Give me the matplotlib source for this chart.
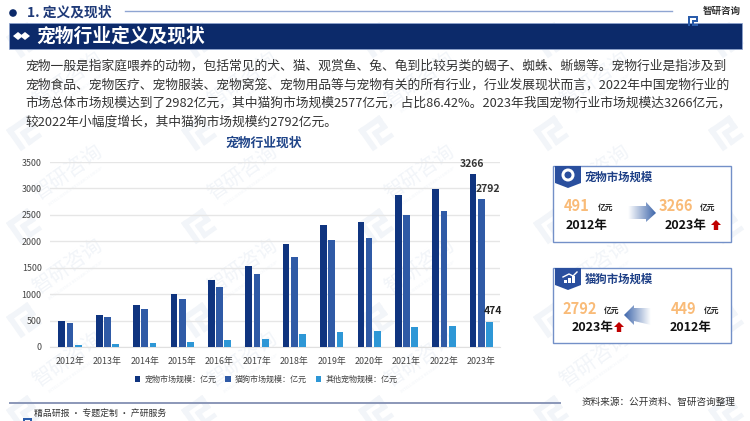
#!/usr/bin/env python3
"""Pet industry slide: bar chart of market size plus two summary cards."""
import numpy as np
import matplotlib

matplotlib.use("Agg")
import matplotlib.pyplot as plt
from matplotlib.patches import Circle, Polygon, Rectangle
from matplotlib.transforms import Affine2D

plt.rcParams["font.family"] = ["Noto Sans CJK SC", "DejaVu Sans"]

NAVY = "#0c2a6a"
ORANGE = "#f9bb78"
BORDER = "#7390c8"
WATERMARK = "#f2f5f9"

years = ["2012年", "2013年", "2014年", "2015年", "2016年", "2017年",
         "2018年", "2019年", "2020年", "2021年", "2022年", "2023年"]
total_size = [491, 614, 790, 1000, 1260, 1530, 1950, 2310, 2360, 2870, 2982, 3266]
cat_dog_size = [449, 560, 715, 900, 1135, 1380, 1700, 2020, 2065, 2490, 2577, 2792]
other_size = [42, 54, 75, 100, 125, 155, 250, 290, 295, 380, 405, 474]
y_ticks = [0, 500, 1000, 1500, 2000, 2500, 3000, 3500]
series_names = ["宠物市场规模：亿元", "猫狗市场规模：亿元", "其他宠物规模：亿元"]
series_colors = ["#0f347f", "#2f5aa6", "#2e97d6"]

body_lines = [
    "宠物一般是指家庭喂养的动物，包括常见的犬、猫、观赏鱼、兔、龟到比较另类的蝎子、蜘蛛、蜥蜴等。宠物行业是指涉及到",
    "宠物食品、宠物医疗、宠物服装、宠物窝笼、宠物用品等与宠物有关的所有行业，行业发展现状而言，2022年中国宠物行业的",
    "市场总体市场规模达到了2982亿元，其中猫狗市场规模2577亿元，占比86.42%。2023年我国宠物行业市场规模达3266亿元，",
    "较2022年小幅度增长，其中猫狗市场规模约2792亿元。",
]


def logo(ax, x, y, scale, color, rot=0, zorder=1):
    """Rough version of the company mark, built from a few bars."""
    parts = [(0, 0, 1.0, 0.22), (0, 0, 0.22, 1.0), (0.38, 0.38, 0.62, 0.2),
             (0.78, 0, 0.22, 0.58), (0.38, 0.38, 0.2, 0.62), (0.38, 0.82, 0.62, 0.18)]
    tr = Affine2D().scale(scale).rotate_deg(rot).translate(x, y) + ax.transData
    for px, py, w, h in parts:
        ax.add_patch(Rectangle((px, py), w, h, fc=color, ec="none", transform=tr, zorder=zorder))


def gradient_arrow(ax, pts, extent, reverse=False):
    grad = np.linspace(0, 1, 64).reshape(1, -1)
    if reverse:
        grad = grad[:, ::-1]
    cmap = matplotlib.colors.LinearSegmentedColormap.from_list("fade", ["#ffffff", "#3f67ab"])
    im = ax.imshow(grad, extent=extent, aspect="auto", cmap=cmap, zorder=3)
    im.set_clip_path(Polygon(pts, transform=ax.transData))


def up_arrow(ax, x, y):
    pts = [(x, y - 5), (x + 5, y), (x + 2.2, y), (x + 2.2, y + 5), (x - 2.2, y + 5), (x - 2.2, y), (x - 5, y)]
    ax.add_patch(Polygon(pts, fc="#c00000", ec="none", zorder=3))


def card(ax, top, bottom, title):
    ax.add_patch(Rectangle((553, top), 178, bottom - top, fc="white", ec=BORDER, lw=1.0, zorder=2))
    ribbon = [(555, top), (581, top), (581, top + 17), (568, top + 22), (555, top + 17)]
    ax.add_patch(Polygon(ribbon, fc="#2a4f9e", ec="none", zorder=3))
    ax.text(585, top + 11, title, fontsize=8.2, fontweight="bold", color="#1d3f86",
            va="center", ha="left", zorder=4)


def card_value(ax, cx, y, value, unit_x, year_x, year):
    ax.text(cx, y, value, fontsize=10.5, fontweight="bold", color=ORANGE, ha="center", va="center", zorder=4)
    ax.text(unit_x, y + 1, "亿元", fontsize=5.6, fontweight="bold", color="#222222", ha="center", va="center", zorder=4)
    ax.text(year_x, y + 19, year, fontsize=9, fontweight="bold", color="#111111", ha="center", va="center", zorder=4)


fig = plt.figure(figsize=(7.5, 4.21), dpi=100)
bg = fig.add_axes([0, 0, 1, 1])
bg.set_axis_off()

# repeated watermark behind everything; text only where it fits on the slide
for wx in (-107, 68, 243, 420, 595, 770):
    for wy in (-13, 80, 173, 267, 360, 453):
        if 0 < wx < 700 and 0 < wy < 400:
            bg.text(wx, wy, "智研咨询", fontsize=14.5, color=WATERMARK, rotation=35,
                    ha="center", va="center", zorder=1)
            bg.text(wx + 8, wy + 14, "INTELLIGENCE RESEARCH GROUP", fontsize=3, color=WATERMARK,
                    rotation=35, ha="center", va="center", zorder=1)
        logo(bg, wx - 62, wy + 50, 26, WATERMARK, rot=-35, zorder=1)

# section header
bg.add_patch(Circle((13, 13), 3.8, fc=NAVY, ec="none", zorder=3))
bg.text(27, 13, "1. 定义及现状", fontsize=9.9, fontweight="bold", color="#1f3a78",
        va="center", ha="left", zorder=3)
bg.plot([125, 672], [10.5, 10.5], color="#8fa5d2", lw=1.0, zorder=2)
logo(bg, 688, 16, 10, "#2a5cab", zorder=3)
bg.text(703, 10.5, "智研咨询", fontsize=6.8, fontweight="bold", color="#333333",
        va="center", ha="left", zorder=3)

# title banner
bg.add_patch(Rectangle((9, 23), 733, 26, fc=NAVY, ec="#8fa5d2", lw=0.5, zorder=2))
bg.add_patch(Polygon([(13, 36), (18, 32), (23, 36), (18, 40)], fc="white", ec="none", zorder=3))
bg.add_patch(Polygon([(20, 36), (25, 32), (30, 36), (25, 40)], fc="white", ec="none", zorder=3))
bg.text(36, 36, "宠物行业定义及现状", fontsize=13.5, fontweight="bold", color="white",
        va="center", ha="left", zorder=3)

# body paragraph
for line, ly in zip(body_lines, (66, 85, 103, 122)):
    bg.text(25, ly, line, fontsize=9.2, color="#333333", va="center", ha="left", zorder=3)

bg.text(264, 143, "宠物行业现状", fontsize=9.2, fontweight="bold", color="#1f4488",
        va="center", ha="center", zorder=3)

# cards
card(bg, 166, 242, "宠物市场规模")
bg.add_patch(Circle((568, 175), 6.5, fc="white", ec="none", zorder=4))
bg.add_patch(Circle((568, 175), 3.5, fc="#2a4f9e", ec="none", zorder=4))
card_value(bg, 577, 206, "491", 605.5, 587, "2012年")
gradient_arrow(bg, [(628, 206), (646, 206), (646, 202), (656, 213), (646, 222), (646, 219), (628, 219)],
               (628, 656, 222, 202))
card_value(bg, 676, 206, "3266", 707.5, 686, "2023年")
up_arrow(bg, 716, 225)

card(bg, 268, 343, "猫狗市场规模")
for bx, bh in zip((564, 568, 572), (3, 5, 7)):
    bg.add_patch(Rectangle((bx, 283 - bh), 2.6, bh, fc="white", ec="none", zorder=4))
bg.plot([563, 569, 573, 577], [277, 274, 276, 272], color="white", lw=1.0, zorder=4)
card_value(bg, 580, 309, "2792", 611.5, 593, "2023年")
up_arrow(bg, 619, 327)
gradient_arrow(bg, [(651, 308), (634, 308), (634, 305), (624, 315), (634, 325), (634, 321), (651, 325)],
               (624, 651, 326, 304), reverse=True)
card_value(bg, 684, 309, "449", 711.5, 690.5, "2012年")

# footer
bg.plot([10, 560], [403, 403], color="#8b97b8", lw=1.4, zorder=2)
logo(bg, 23, 418, 9, "#2a5cab", zorder=3)
bg.text(34, 413, "精品研报 · 专题定制 · 产研服务", fontsize=6.4, color="#333333", va="center", ha="left", zorder=3)
bg.text(582, 402, "资料来源：公开资料、智研咨询整理", fontsize=6.9, color="#333333", va="center", ha="left", zorder=3)

bg.set_xlim(0, 750)
bg.set_ylim(421, 0)

# bar chart
ax = fig.add_axes([50 / 750, (421 - 347) / 421, 450 / 750, 185 / 421], facecolor="none")
x = np.arange(len(years))
bar_w = 0.18
step = 0.22
ax.bar(x - step, total_size, bar_w, color=series_colors[0], label=series_names[0], zorder=3)
ax.bar(x, cat_dog_size, bar_w, color=series_colors[1], label=series_names[1], zorder=3)
ax.bar(x + step, other_size, bar_w, color=series_colors[2], label=series_names[2], zorder=3)
ax.set_xlim(-0.535, 11.5)
ax.set_ylim(0, 3500)
ax.set_yticks(y_ticks)
ax.set_xticks(x, years)
ax.tick_params(length=0, labelsize=6.4, labelcolor="#444444")
ax.tick_params(axis="x", pad=7)
ax.tick_params(axis="y", pad=6)
ax.grid(axis="y", color="#e6e6e6", lw=1.0, zorder=0)
for name, spine in ax.spines.items():
    spine.set_visible(name == "bottom")
ax.spines["bottom"].set_color("#e0e0e0")

ax.annotate(str(total_size[-1]), (x[-1] - step, total_size[-1]), xytext=(-1, 4), textcoords="offset points",
            ha="center", va="bottom", fontsize=7.5, fontweight="bold", color="#333333")
ax.annotate(str(cat_dog_size[-1]), (x[-1], cat_dog_size[-1]), xytext=(5, 4), textcoords="offset points",
            ha="center", va="bottom", fontsize=7.5, fontweight="bold", color="#333333")
ax.annotate(str(other_size[-1]), (x[-1] + step, other_size[-1]), xytext=(2.5, 4.5), textcoords="offset points",
            ha="center", va="bottom", fontsize=7.5, fontweight="bold", color="#222222")

ax.legend(ncol=3, loc="center", bbox_to_anchor=(0.48, -0.175), frameon=False, fontsize=5.8,
          labelcolor="#444444", handlelength=0.7, handleheight=0.7, handletextpad=0.5, columnspacing=1.1)

fig.savefig("out.png", dpi=100)
